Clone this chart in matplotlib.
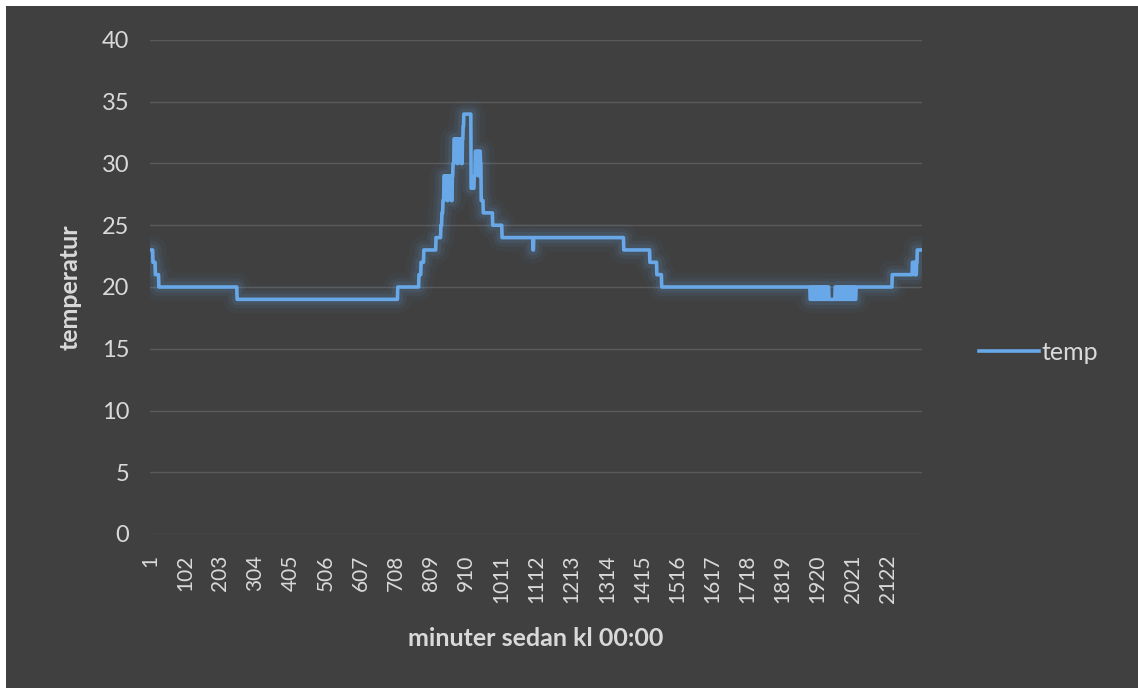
import matplotlib.pyplot as plt
import numpy as np
from matplotlib.patches import Rectangle

# temperature readings, stored as (level, number of minutes at that level)
levels = [23, 22, 21, 20, 19,
          20, 21, 22, 23, 24, 25, 26,
          27, 29, 28, 29, 27, 29, 28, 29, 27, 29,
          30, 32, 31, 32, 30, 32, 31, 32, 30, 32,
          33, 34, 28,
          29, 31, 30, 31, 29, 31, 30,
          27, 26, 25, 24, 23, 24, 23, 22, 21, 20,
          19, 20, 19, 20, 19, 20, 19, 20, 19, 20, 19, 20, 19, 20, 19, 20, 19, 20, 19,
          19,
          20, 19, 20, 19, 20, 19, 20, 19, 20, 19, 20, 19, 20, 19, 20, 19, 20, 19, 20, 19, 20,
          20, 21, 22, 21, 22, 21, 22, 23]
minutes = [8, 7, 10, 225, 462,
           61, 6, 8, 35, 14, 3, 3,
           3, 3, 3, 3, 3, 3, 3, 3, 3, 2,
           3, 3, 3, 3, 3, 3, 3, 3, 3, 2,
           2, 21, 9,
           3, 3, 3, 3, 3, 3, 2,
           6, 27, 27, 89, 2, 259, 75, 20, 14, 427,
           3, 3, 3, 3, 3, 3, 3, 3, 3, 3, 3, 3, 3, 3, 3, 3, 3, 3, 1,
           17,
           3, 3, 3, 3, 3, 3, 3, 3, 3, 3, 3, 3, 3, 3, 3, 3, 3, 3, 3, 3, 4,
           100, 58, 6, 2, 2, 2, 2, 14]

temp = np.repeat(levels, minutes)
minute = np.arange(1, len(temp) + 1)
tick_pos = np.arange(1, len(temp) + 1, 101)
tick_labels = [str(t) for t in tick_pos]

bg = '#404040'
txt = '#d9d9d9'
blue = '#68a8e8'

fig = plt.figure(figsize=(11.38, 6.88), dpi=100, facecolor='white')
fig.patches.append(Rectangle((6 / 1138, 0), 1, 682 / 688, transform=fig.transFigure,
                             facecolor=bg, edgecolor='none', zorder=-10))

ax = fig.add_axes([150 / 1138, 154 / 688, 772 / 1138, 494 / 688])
ax.set_facecolor(bg)

# soft glow under the line
for lw, a in [(20, 0.05), (13, 0.08), (8, 0.13)]:
    ax.plot(minute, temp, color='#5b9bd5', linewidth=lw, alpha=a,
            solid_joinstyle='round', solid_capstyle='round')
ax.plot(minute, temp, color=blue, linewidth=2.6, label='temp')

ax.set_xlim(0.5, len(temp) + 0.5)
ax.set_ylim(0, 40)
ax.set_yticks(range(0, 41, 5))
ax.set_xticks(tick_pos)
ax.set_xticklabels(tick_labels, rotation=90, fontsize=15, color=txt, family='Lato')
ax.tick_params(axis='y', labelsize=17, colors=txt, length=0, pad=15)
ax.tick_params(axis='x', length=0, pad=15)
for lab in ax.get_yticklabels():
    lab.set_family('Lato')

ax.grid(axis='y', color='#5a5a5a', linewidth=1)
ax.set_axisbelow(True)
for s in ax.spines.values():
    s.set_visible(False)

ax.set_xlabel('minuter sedan kl 00:00', fontsize=18, color=txt, fontweight='bold',
              family='Lato', labelpad=17)
ax.set_ylabel('temperatur', fontsize=18, color=txt, fontweight='bold',
              family='Lato', labelpad=14)

leg = ax.legend(loc='center left', bbox_to_anchor=(1.058, 0.368), frameon=False,
                handlelength=2.4, handletextpad=0.1, borderpad=0,
                prop={'family': 'Lato', 'size': 18})
for t in leg.get_texts():
    t.set_color(txt)

fig.savefig('out.png', dpi=100, facecolor='white')
